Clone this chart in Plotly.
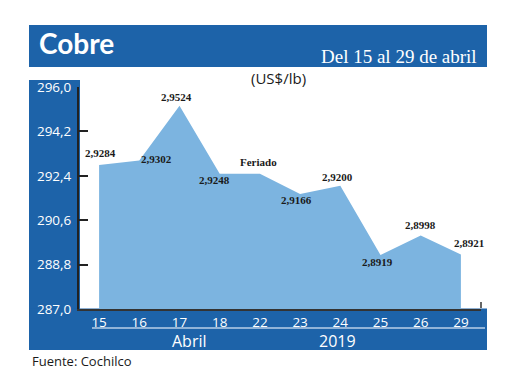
import plotly.graph_objects as go

# ---- data ----
days = ["15", "16", "17", "18", "22", "23", "24", "25", "26", "29"]
price_cents = [292.84, 293.02, 295.24, 292.48, 292.48, 291.66, 292.00, 289.19, 289.98, 289.21]
point_labels = ["2,9284", "2,9302", "2,9524", "2,9248", "Feriado", "2,9166", "2,9200", "2,8919", "2,8998", "2,8921"]
y_ticks = [287.0, 288.8, 290.6, 292.4, 294.2, 296.0]

# label offsets (px) relative to each point
label_dx = [1, 17, -3, -5, -1, -4, -3, -3, 0, 8]
label_dy = [12, 2, 9, -6, 12, -6, 9, -7, 10, 11]

OFF = 8  # page body margin
W, H = 520 - OFF, 390 - OFF
L, R, T, B = 79 - OFF, 481 - OFF, 87 - OFF, 309 - OFF

def px(x):
    return (x - OFF - L) / (R - L)

def py(y):
    return (B - (y - OFF)) / (B - T)

DARK = "#1d63a9"
AREA = "#7cb4e0"

fig = go.Figure()
fig.add_trace(go.Scatter(
    x=days, y=price_cents, mode="lines", fill="tozeroy",
    fillcolor=AREA, line=dict(color=AREA, width=0), hoverinfo="skip",
    showlegend=False,
))

shapes = [
    dict(type="rect", xref="paper", yref="paper", x0=px(29), x1=px(487), y0=py(67), y1=py(25),
         fillcolor=DARK, line=dict(width=0), layer="below"),
    dict(type="rect", xref="paper", yref="paper", x0=px(29), x1=px(80), y0=py(350), y1=py(80),
         fillcolor=DARK, line=dict(width=0), layer="below"),
    dict(type="rect", xref="paper", yref="paper", x0=px(29), x1=px(487), y0=py(350), y1=py(308.5),
         fillcolor=DARK, line=dict(width=0), layer="below"),
    dict(type="line", xref="paper", yref="paper", x0=px(92), x1=px(485), y0=py(328), y1=py(328),
         line=dict(color="#b9cfe8", width=1.5)),
    dict(type="line", xref="paper", yref="paper", x0=px(481), x1=px(481), y0=py(308), y1=py(302),
         line=dict(color="#333333", width=1.5)),
]

annotations = []
for i, (v, t, dx, dy) in enumerate(zip(price_cents, point_labels, label_dx, label_dy)):
    annotations.append(dict(
        x=i, y=v, xref="x", yref="y", text=t, showarrow=False,
        xshift=dx, yshift=dy,
        font=dict(family="Liberation Serif", size=11, color="#1a1a1a", weight="bold"),
    ))

def txt(x, y, s, size, color, family="Open Sans", xanchor="center", weight="normal"):
    annotations.append(dict(
        x=px(x), y=py(y), xref="paper", yref="paper", text=s, showarrow=False,
        xanchor=xanchor, yanchor="middle",
        font=dict(family=family, size=size, color=color, weight=weight),
    ))

txt(37, 43, "Cobre", 28, "white", family="Lato", xanchor="left", weight="bold")
txt(479, 56, "Del 15 al 29 de abril", 19, "white", family="Liberation Serif", xanchor="right")
txt(278, 78, "(US$/lb)", 15, "#1a1a1a")
txt(189, 341, "Abril", 16, "white")
txt(337, 341, "2019", 16, "white")
txt(30, 361, "Fuente: Cochilco", 13, "#1a1a1a", xanchor="left")

fig.update_layout(
    width=W, height=H, autosize=False,
    margin=dict(l=L, r=W - R, t=T, b=H - B, pad=0),
    paper_bgcolor="white", plot_bgcolor="rgba(0,0,0,0)",
    separators=",.",
    shapes=shapes, annotations=annotations,
    xaxis=dict(
        type="category", range=[-0.5, 9.5], showgrid=False, zeroline=False,
        showline=True, linecolor="#333333", linewidth=1.5, ticks="",
        tickfont=dict(family="Open Sans", size=13.5, color="white"),
        ticklabelstandoff=0,
        fixedrange=True,
    ),
    yaxis=dict(
        range=[287, 296], tickvals=y_ticks, tickformat=".1f",
        showgrid=False, zeroline=False,
        showline=True, linecolor="#222222", linewidth=2,
        ticks="inside", ticklen=9, tickwidth=2, tickcolor="#222222",
        tickfont=dict(family="Open Sans", size=13.5, color="white"),
        ticklabelstandoff=3,
        fixedrange=True,
    ),
)

fig.write_html("out.html")
